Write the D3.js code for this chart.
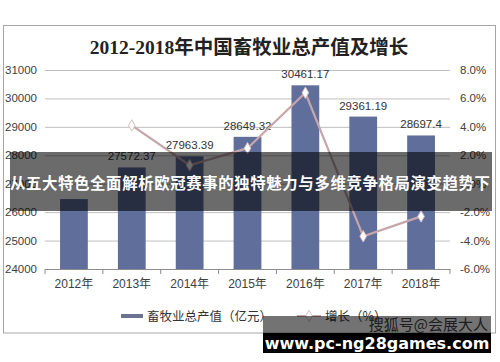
<!DOCTYPE html>
<html><head><meta charset="utf-8">
<script src="https://cdn.jsdelivr.net/npm/d3@7"></script>
<style>
html,body{margin:0;padding:0;background:#fff;}
svg{display:block;}
</style></head>
<body>
<script>
const title = "2012-2018年中国畜牧业总产值及增长";
const categories = ["2012年","2013年","2014年","2015年","2016年","2017年","2018年"];
const outputValues = [26460, 27572.37, 27963.39, 28649.32, 30461.17, 29361.19, 28697.4];
const outputLabels = ["", "27572.37", "27963.39", "28649.32", "30461.17", "29361.19", "28697.4"];
const growthValues = [null, 4.1, 1.3, 2.5, 6.4, -3.7, -2.3];
const leftTicks = [24000, 25000, 26000, 27000, 28000, 29000, 30000, 31000];
const rightTicks = [-6, -4, -2, 0, 2, 4, 6, 8];
const legendNames = ["畜牧业总产值（亿元）", "增长（%）"];
const bannerText = "从五大特色全面解析欧冠赛事的独特魅力与多维竞争格局演变趋势下";
const watermark1 = "搜狐号@会展大人";
const watermark2 = "www.pc-ng28games.com";

const W = 500, H = 362;
const svg = d3.select("body").append("svg").attr("width", W).attr("height", H);
const font = "'Liberation Sans', Arial, 'Noto Sans CJK SC', sans-serif";

// frame
svg.append("rect").attr("x", 3.5).attr("y", 25.5).attr("width", 492).attr("height", 307.5)
  .attr("fill", "#fff").attr("stroke", "#a6a6a6").attr("stroke-width", 1);

// title
svg.append("text").attr("x", 249).attr("y", 54).attr("text-anchor", "middle")
  .attr("font-family", "'Liberation Serif', 'Noto Sans CJK SC', serif")
  .attr("font-size", 19.5).attr("font-weight", "bold").attr("fill", "#222").text(title);

const x = d3.scaleBand().domain(categories).range([45, 450]).padding(0);
const yL = d3.scaleLinear().domain([24000, 31000]).range([269, 70]);
const yR = d3.scaleLinear().domain([-6, 8]).range([269, 70]);

// gridlines
const grid = svg.append("g").attr("transform", "translate(45,0)")
  .call(d3.axisLeft(yL).tickValues(leftTicks).tickSize(-405).tickFormat(""));
grid.select(".domain").remove();
grid.selectAll("line").attr("stroke", "#bfbfbf").attr("stroke-width", 1);

// x axis
const xa = svg.append("g").attr("transform", "translate(0,269)")
  .call(d3.axisBottom(x).tickSize(0).tickFormat(""));
xa.select(".domain").attr("stroke", "#8c8c8c");
svg.append("g").selectAll("line").data(categories.concat(["end"])).join("line")
  .attr("x1", (d, i) => 45 + i * x.step()).attr("x2", (d, i) => 45 + i * x.step())
  .attr("y1", 269).attr("y2", 274).attr("stroke", "#8c8c8c");

// left tick labels
svg.append("g").selectAll("text").data(leftTicks).join("text")
  .attr("x", 5).attr("y", d => yL(d) + 4).attr("font-family", font).attr("font-size", 11.5)
  .attr("fill", "#404040").text(d => d);
// right tick labels
svg.append("g").selectAll("text").data(rightTicks).join("text")
  .attr("x", 460).attr("y", d => yR(d) + 4).attr("font-family", font).attr("font-size", 11.5)
  .attr("fill", "#404040").text(d => d.toFixed(1) + "%");
// x labels
svg.append("g").selectAll("text").data(categories).join("text")
  .attr("x", d => x(d) + x.bandwidth() / 2).attr("y", 288).attr("text-anchor", "middle")
  .attr("font-family", font).attr("font-size", 12).attr("fill", "#404040").text(d => d);

// bars
const bw = x.bandwidth() * 0.48;
svg.append("g").selectAll("rect").data(outputValues).join("rect")
  .attr("x", (d, i) => x(categories[i]) + x.bandwidth() / 2 - bw / 2)
  .attr("y", d => yL(d)).attr("width", bw).attr("height", d => yL(24000) - yL(d))
  .attr("fill", "#5f6e9b");

// bar labels
svg.append("g").selectAll("text").data(outputValues).join("text")
  .attr("x", (d, i) => x(categories[i]) + x.bandwidth() / 2).attr("y", d => yL(d) - 7)
  .attr("text-anchor", "middle").attr("font-family", font).attr("font-size", 11.5)
  .attr("fill", "#333").text((d, i) => outputLabels[i]);

// growth line
const pts = growthValues.map((v, i) => ({v, c: categories[i]})).filter(p => p.v !== null);
const line = d3.line().x(p => x(p.c) + x.bandwidth() / 2).y(p => yR(p.v));
svg.append("path").datum(pts).attr("d", line).attr("fill", "none")
  .attr("stroke", "#c7a6ab").attr("stroke-width", 2.2);
const diamond = d3.symbol().type(d3.symbolDiamond).size(38);
svg.append("g").selectAll("path").data(pts).join("path")
  .attr("d", diamond)
  .attr("transform", p => `translate(${x(p.c) + x.bandwidth() / 2},${yR(p.v)}) rotate(0)`)
  .attr("fill", "#fff").attr("stroke", "#d8bfc3").attr("stroke-width", 1);

// legend
svg.append("rect").attr("x", 121).attr("y", 314).attr("width", 22).attr("height", 4).attr("fill", "#6b7391");
svg.append("text").attr("x", 147).attr("y", 321).attr("font-family", "'Noto Sans CJK SC', sans-serif")
  .attr("font-size", 12.5).attr("fill", "#333").text(legendNames[0]);
svg.append("line").attr("x1", 297).attr("x2", 321).attr("y1", 316).attr("y2", 316)
  .attr("stroke", "#c7a6ab").attr("stroke-width", 2);
svg.append("path").attr("d", diamond).attr("transform", "translate(309,316)")
  .attr("fill", "#fff").attr("stroke", "#d8bfc3");
svg.append("text").attr("x", 325).attr("y", 321).attr("font-family", "'Noto Sans CJK SC', sans-serif")
  .attr("font-size", 12.5).attr("fill", "#333").text(legendNames[1]);

// banner overlay
svg.append("rect").attr("x", 10).attr("y", 152).attr("width", 482).attr("height", 59)
  .attr("fill", "rgba(0,0,0,0.58)");
svg.append("text").attr("x", 250).attr("y", 189).attr("text-anchor", "middle")
  .attr("font-family", "'Noto Sans CJK SC', sans-serif").attr("font-weight", "bold")
  .attr("font-size", 15.4).attr("fill", "#fff").attr("textLength", 480).text(bannerText);

// watermark
svg.append("text").attr("x", 488).attr("y", 330).attr("text-anchor", "end")
  .attr("font-family", "'Noto Sans CJK SC', sans-serif").attr("font-size", 15)
  .attr("fill", "#444").text(watermark1);
svg.append("rect").attr("x", 263).attr("y", 316).attr("width", 228).attr("height", 17)
  .attr("fill", "rgba(0,0,0,0.55)");
svg.append("rect").attr("x", 263).attr("y", 333).attr("width", 228).attr("height", 20).attr("fill", "#000");
svg.append("text").attr("x", 377).attr("y", 349).attr("text-anchor", "middle")
  .attr("font-family", "'DejaVu Sans', sans-serif").attr("font-weight", "bold")
  .attr("font-size", 16).attr("fill", "#fff").text(watermark2);
</script>
</body></html>
